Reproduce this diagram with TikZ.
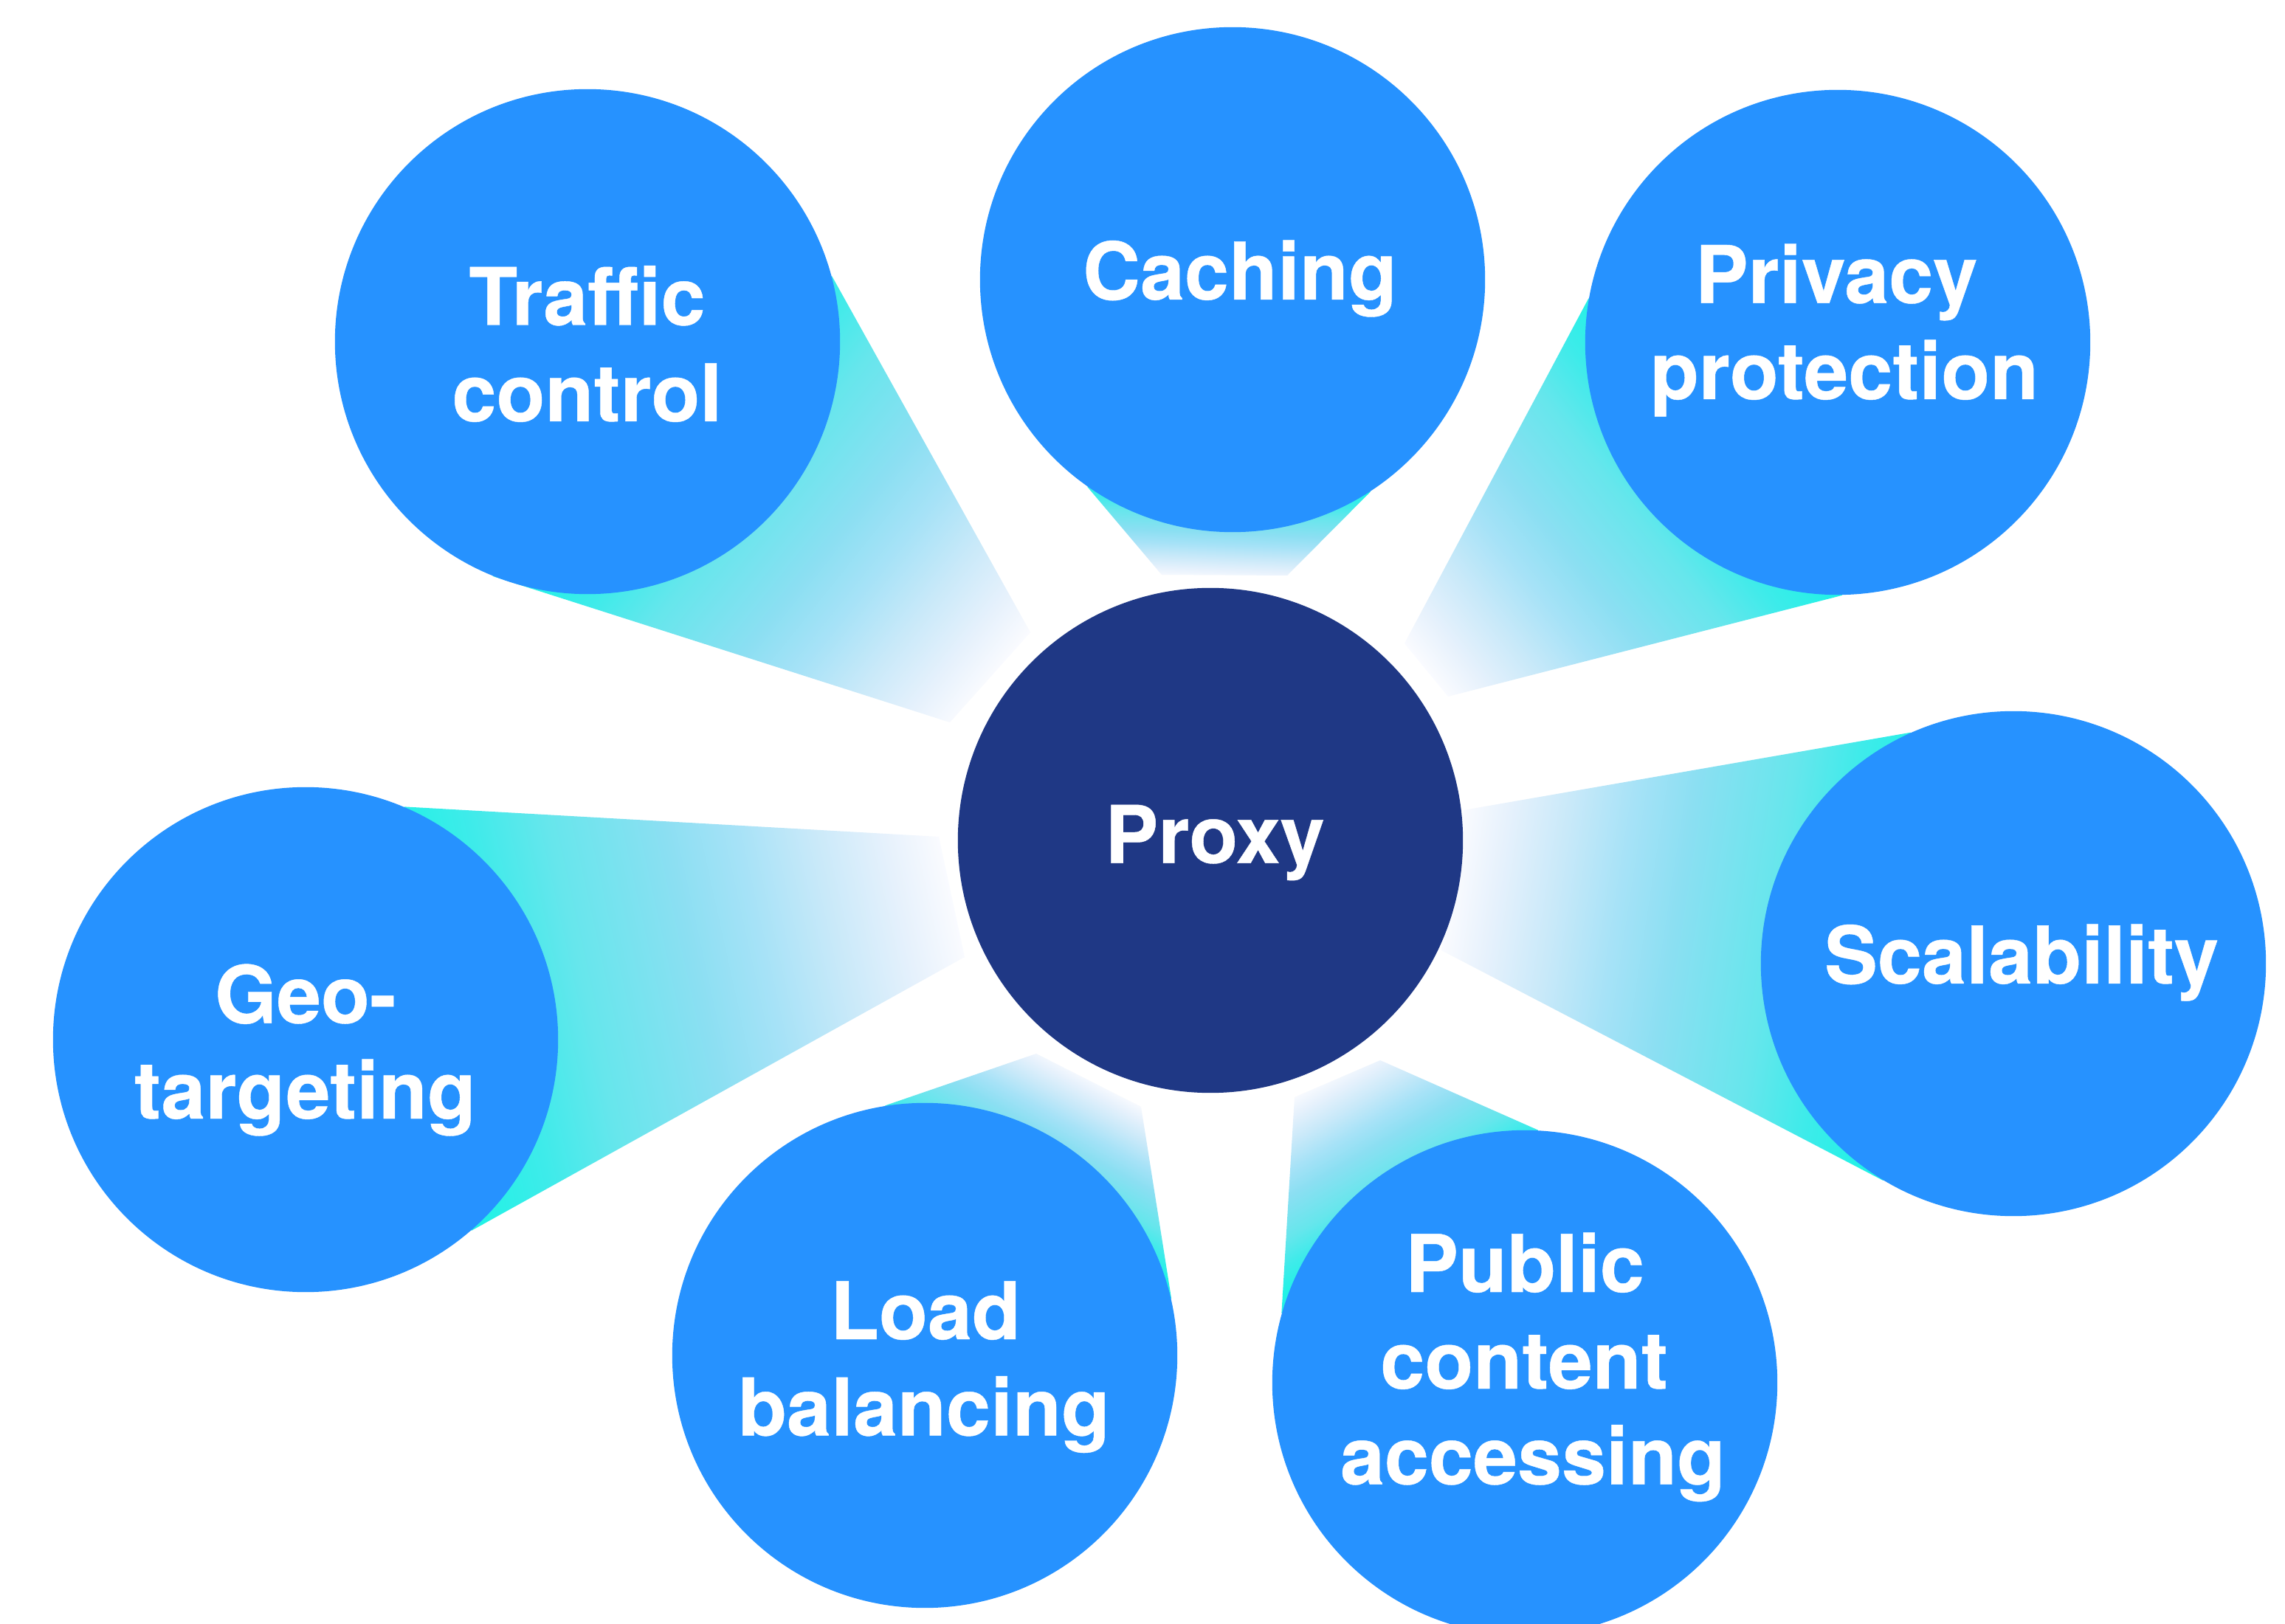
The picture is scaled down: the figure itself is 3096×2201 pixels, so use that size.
\documentclass[tikz,border=0pt]{standalone}
\usepackage{fontspec}
\usetikzlibrary{backgrounds}
\newfontfamily\herosfont{TeX Gyre Heros}[FakeBold=0.4]
\definecolor{circblue}{HTML}{2692FF}
\definecolor{proxyblue}{HTML}{1F3885}
\definecolor{bm0}{HTML}{FCFCFF}
\definecolor{bmA}{HTML}{E6F1FC}
\definecolor{bmB}{HTML}{C9E9F9}
\definecolor{bmC}{HTML}{A6E2F7}
\definecolor{bmD}{HTML}{8BDFF2}
\definecolor{bmE}{HTML}{66E6EC}
\definecolor{bmF}{HTML}{3EEBEA}
\definecolor{bmG}{HTML}{22F2E6}
\pgfdeclarehorizontalshading{beamshade}{100bp}{color(0bp)=(bm0); color(25bp)=(bm0); color(30.5bp)=(bmA); color(37bp)=(bmB); color(44bp)=(bmC); color(50.5bp)=(bmD); color(61bp)=(bmE); color(68bp)=(bmF); color(75bp)=(bmG); color(100bp)=(bmG)}
% #1 axis angle, #2 start of fade, #3 end of fade (px from proxy centre),
% #4 near point A, #5 far point A, #6 far point B, #7 near point B, #8 feature node
\newcommand{\drawbeam}[8]{%
  \begin{scope}
    \clip (#4) -- (#5) -- (#8.center) -- (#6) -- (#7) -- cycle;
    \begin{scope}[transform canvas={shift={(proxy.center)}, rotate=#1}, x=1cm, y=-1cm]
      \fill[bmG] (#3/100-0.02,-9) rectangle (16,9);
      \shade[beam] (#2/100,-9) rectangle (#3/100,9);
    \end{scope}
  \end{scope}%
}
\begin{document}
\begin{tikzpicture}[x=0.01cm,y=-0.01cm,
  feat/.style={circle, fill=circblue, minimum size=6.84cm, inner sep=0pt, draw=none},
  hub/.style={circle, fill=proxyblue, minimum size=6.84cm, inner sep=0pt, draw=none},
  lbl/.style={text=white, font=\herosfont\bfseries\fontsize{30.7}{37}\selectfont, inner sep=0pt, anchor=base},
  beam/.style={shading=beamshade, draw=none}]
\useasboundingbox (0,0) rectangle (3096,2201);
% circles
\node[hub]  (proxy)    at (1640,1139) {};
\node[feat] (traffic)  at (796,463) {};
\node[feat] (caching)  at (1670,379) {};
\node[feat] (privacy)  at (2490,464) {};
\node[feat] (scal)     at (2728,1306) {};
\node[feat] (public)   at (2066,1874) {};
\node[feat] (load)     at (1253,1837) {};
\node[feat] (geo)      at (414,1409) {};
% labels
\node[lbl] (tProxy) at (1646,1169.6) {Proxy};
\node[lbl] (tTraf1) at (795.5,440.5) {Traffic};
\node[lbl] (tTraf2) at (795.5,571) {control};
\node[lbl] (tCach)  at (1680,406) {Caching};
\node[lbl] (tPriv1) at (2488,410.7) {Privacy};
\node[lbl] (tPriv2) at (2499,541) {protection};
\node[lbl] (tScal)  at (2739,1333) {Scalability};
\node[lbl] (tPub1)  at (2066,1751) {Public};
\node[lbl] (tPub2)  at (2065,1882) {content};
\node[lbl] (tPub3)  at (2077,2011.6) {accessing};
\node[lbl] (tLoad1) at (1254,1815) {Load};
\node[lbl] (tLoad2) at (1252,1945.5) {balancing};
\node[lbl] (tGeo1)  at (414,1386.6) {Geo-};
\node[lbl] (tGeo2)  at (413.4,1516) {targeting};
% near ends of the beams
\coordinate (nTrA) at (1396,857);  \coordinate (nTrB) at (1287,979);
\coordinate (nCaA) at (1574,779);  \coordinate (nCaB) at (1744,780);
\coordinate (nPrA) at (1903,872);  \coordinate (nPrB) at (1962,944);
\coordinate (nScA) at (1983,1098); \coordinate (nScB) at (1953,1288);
\coordinate (nPuA) at (1754,1487); \coordinate (nPuB) at (1870,1437);
\coordinate (nLoA) at (1404,1428); \coordinate (nLoB) at (1546,1500);
\coordinate (nGeA) at (1272,1134); \coordinate (nGeB) at (1307,1297);
% beams
\begin{scope}[on background layer]
  \fill[white] (0,0) rectangle (3096,2201);
  \drawbeam{141.31}{362}{934}{nTrA}{traffic.15.26}{traffic.-112.8}{nTrB}{traffic}
  \drawbeam{87.74}{353}{478}{nCaA}{caching.-125.8}{caching.-57.1}{nCaB}{caching}
  \drawbeam{38.45}{367}{866}{nPrA}{privacy.170.7}{privacy.-89.3}{nPrB}{privacy}
  \drawbeam{-8.72}{326}{940}{nScA}{scal.114.6}{scal.-121.5}{nScB}{scal}
  \drawbeam{-59.91}{353}{582}{nPuA}{public.164.4}{public.87.7}{nPuB}{public}
  \drawbeam{-119.0}{356}{548}{nLoA}{load.99.9}{load.13.3}{nLoB}{load}
  \drawbeam{-167.58}{350}{1076}{nGeA}{geo.67.4}{geo.-49.4}{nGeB}{geo}
\end{scope}
\end{tikzpicture}
\end{document}
